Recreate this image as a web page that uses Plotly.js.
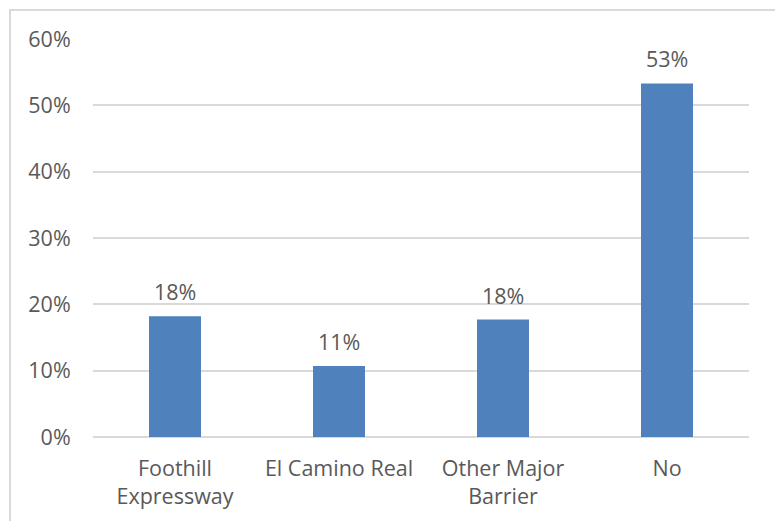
<!DOCTYPE html>
<html>
<head>
<meta charset="utf-8">
<script src="https://cdn.plot.ly/plotly-3.0.1.min.js"></script>
<style>
  html, body { margin: 0; padding: 0; background: #ffffff; }
  #wrap { position: relative; width: 775px; height: 521px; overflow: hidden; }
  #frame { position: absolute; left: 9px; top: 9px; width: 800px; height: 600px;
           border-top: 2px solid #d9d9d9; border-left: 2px solid #d9d9d9; box-sizing: border-box; pointer-events: none; }
  #chart { position: absolute; left: 0; top: 0; width: 775px; height: 521px; }
</style>
</head>
<body>
<div id="wrap">
  <div id="chart"></div>
  <div id="frame"></div>
</div>
<script>
const categories = ["Foothill<br>Expressway", "El Camino Real", "Other Major<br>Barrier", "No"];
const values = [0.182, 0.107, 0.177, 0.533];
const valueLabels = ["18%", "11%", "18%", "53%"];
const yTickVals = [0, 0.1, 0.2, 0.3, 0.4, 0.5, 0.6];
const yTickText = ["0%", "10%", "20%", "30%", "40%", "50%", "60%"];

const textColor = "#595959";
const fontFamily = "'Open Sans', 'Noto Sans', sans-serif";
const fontSize = 21.5;

const trace = {
  type: "bar",
  x: categories,
  y: values,
  marker: { color: "#4f81bd", line: { width: 0 } },
  hoverinfo: "none"
};

const annotations = categories.map((c, i) => ({
  x: c,
  y: values[i],
  xref: "x",
  yref: "y",
  text: valueLabels[i],
  showarrow: false,
  yanchor: "bottom",
  yshift: 8,
  font: { family: fontFamily, size: fontSize, color: textColor }
}));

const layout = {
  width: 775,
  height: 521,
  margin: { l: 93, r: 26, t: 39, b: 84 },
  paper_bgcolor: "#ffffff",
  plot_bgcolor: "#ffffff",
  bargap: 0.683,
  showlegend: false,
  font: { family: fontFamily, size: fontSize, color: textColor },
  xaxis: {
    type: "category",
    showgrid: false,
    zeroline: false,
    showline: false,
    ticks: "outside",
    ticklen: 12,
    tickcolor: "rgba(0,0,0,0)",
    tickfont: { family: fontFamily, size: fontSize, color: textColor },
    fixedrange: true
  },
  yaxis: {
    range: [0, 0.6],
    tickvals: yTickVals,
    ticktext: yTickText,
    showgrid: true,
    gridcolor: "#d9d9d9",
    gridwidth: 2,
    zeroline: true,
    zerolinecolor: "#d9d9d9",
    zerolinewidth: 2,
    showline: false,
    ticks: "outside",
    ticklen: 17,
    tickcolor: "rgba(0,0,0,0)",
    tickfont: { family: fontFamily, size: fontSize, color: textColor },
    fixedrange: true
  },
  annotations: annotations
};

Plotly.newPlot("chart", [trace], layout, { displayModeBar: false, staticPlot: true });
</script>
</body>
</html>
